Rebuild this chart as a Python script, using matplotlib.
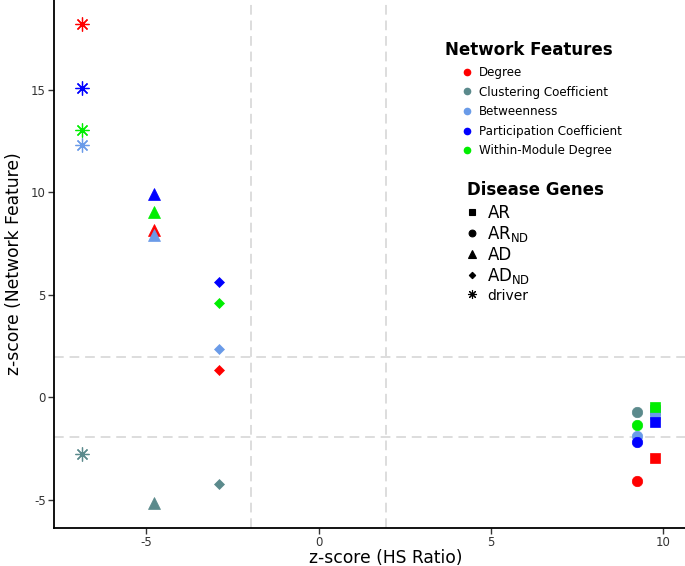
import matplotlib
matplotlib.use("Agg")
import matplotlib.pyplot as plt
from matplotlib.lines import Line2D

plt.rcParams["axes.unicode_minus"] = False

# network features (legend order) and their colours
features = ["Degree", "Clustering Coefficient", "Betweenness",
            "Participation Coefficient", "Within-Module Degree"]
feat_colors = ["#FF0000", "#5B8A8C", "#6A9BE8", "#0000FF", "#00EE00"]

# disease gene groups
genes = ["AR", "AR_ND", "AD", "AD_ND", "driver"]
gene_labels = ["AR", r"AR$_{\mathregular{ND}}$", "AD", r"AD$_{\mathregular{ND}}$", "driver"]
gene_markers = ["s", "o", "^", "D", (8, 2, 0)]
gene_msize = [7, 7.5, 9, 5, 10]

# z-score of HS ratio per gene group
hs_z = [9.77, 9.25, -4.76, -2.89, -6.85]

# z-score of each network feature per gene group (AR, AR_ND, AD, AD_ND, driver)
degree = [-2.95, -4.07, 8.16, 1.33, 18.21]
clustering = [-0.6, -0.70, -5.17, -4.25, -2.77]
betweenness = [-0.83, -1.87, 7.92, 2.34, 12.31]
participation = [-1.20, -2.20, 9.92, 5.64, 15.07]
within_module = [-0.46, -1.35, 9.02, 4.61, 13.04]
feat_values = [degree, clustering, betweenness, participation, within_module]

sig = 1.96  # significance threshold

fig = plt.figure(figsize=(6.85, 5.66), dpi=100)
ax = fig.add_axes([0.079, 0.067, 0.921, 0.933])

for v in (-sig, sig):
    ax.axvline(v, color="#DDDDDD", ls=(0, (5, 3)), lw=1.4, zorder=0)
    ax.axhline(v, color="#DDDDDD", ls=(0, (5, 3)), lw=1.4, zorder=0)

for vals, col in zip(feat_values, feat_colors):
    for i in range(len(genes)):
        mk = gene_markers[i]
        ax.plot(hs_z[i], vals[i], marker=mk, ms=gene_msize[i], color=col,
                mec=col, mew=0.9 if i == 4 else 0.5, ls="none", zorder=3)

ax.set_xlim(-7.67, 10.63)
ax.set_ylim(-6.38, 19.38)
ax.set_xticks([-5, 0, 5, 10])
ax.set_yticks([-5, 0, 5, 10, 15])
for s in ("top", "right"):
    ax.spines[s].set_visible(False)
ax.spines["left"].set_linewidth(1.3)
ax.spines["bottom"].set_linewidth(1.3)
ax.tick_params(labelsize=8.5, length=4, width=1, pad=2, color="#333333", labelcolor="#333333")
ax.set_xlabel("z-score (HS Ratio)", fontsize=12.3)
ax.xaxis.set_label_coords(0.526, -0.040)
ax.set_ylabel("z-score (Network Feature)", fontsize=12.3, labelpad=6)

# legend: network features
fig.text(0.6496, 0.9117, "Network Features", fontsize=12, weight="bold", va="center")
h1 = [Line2D([], [], marker="o", ls="none", ms=4.5, color=c) for c in feat_colors]
leg1 = ax.legend(h1, features, loc="upper left",
                 bbox_to_anchor=(0.6745, 0.8834), bbox_transform=fig.transFigure,
                 frameon=False, fontsize=8.6, handlelength=0.8, handletextpad=0.6,
                 labelspacing=0.55, borderpad=0, borderaxespad=0)
ax.add_artist(leg1)

# legend: disease genes
fig.text(0.6818, 0.6643, "Disease Genes", fontsize=12, weight="bold", va="center")
h2 = [Line2D([], [], marker=m, ls="none", ms=s * 0.65, color="black", mew=0.8)
      for m, s in zip(gene_markers, gene_msize)]
leg2 = ax.legend(h2, gene_labels, loc="upper left",
                 bbox_to_anchor=(0.680, 0.6396), bbox_transform=fig.transFigure,
                 frameon=False, fontsize=12, handlelength=0.8, handletextpad=0.5,
                 labelspacing=0.12, borderpad=0, borderaxespad=0)
leg2.get_texts()[4].set_fontsize(10)

fig.savefig("out.png", dpi=100)
